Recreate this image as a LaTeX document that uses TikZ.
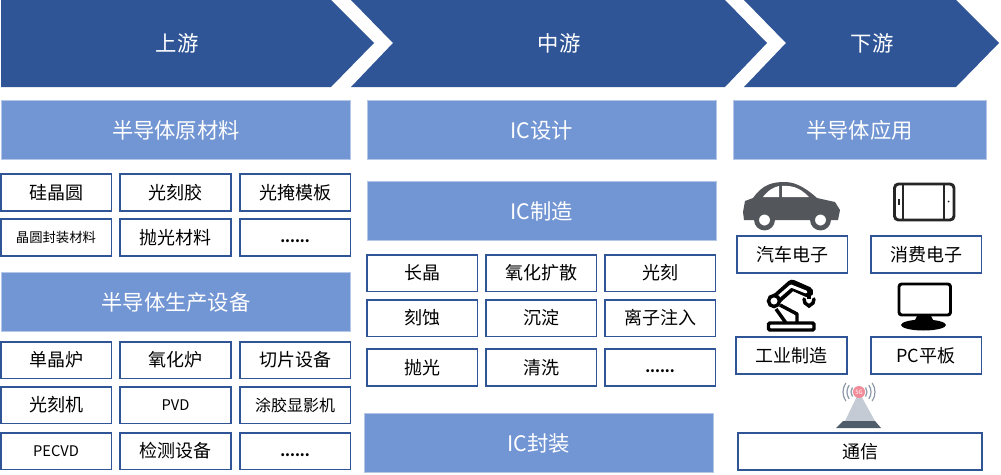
\documentclass[tikz,border=0pt]{standalone}
\usepackage{fontspec}
\setmainfont{Noto Sans CJK SC}
\definecolor{darkblue}{HTML}{2F5597}
\definecolor{midblue}{HTML}{7295D3}
\definecolor{paleblue}{HTML}{B4C7E7}
\definecolor{cargray}{HTML}{53565A}
\definecolor{towergray}{HTML}{C5CBD4}
\definecolor{platform}{HTML}{4F5C6C}
\definecolor{signal}{HTML}{8C98A8}
\definecolor{beacon}{HTML}{F28B98}
\begin{document}
\begin{tikzpicture}[x=0.75pt, y=-0.75pt,
	headtext/.style={text=white, font=\fontsize{16}{16}\selectfont, inner sep=0pt},
	banner/.style={rectangle, fill=midblue, draw=paleblue, line width=0.5pt, inner sep=0pt, outer sep=0pt, minimum width=262pt, minimum height=44pt, text=white, font=\fontsize{16}{16}\selectfont},
	cell/.style={rectangle, draw=darkblue, fill=white, line width=1.25pt, inner sep=0pt, outer sep=0pt, minimum width=83pt, minimum height=27.5pt, font=\fontsize{13.5}{14}\selectfont},
	morecell/.style={cell, font=\fontsize{10.5}{14}\selectfont\bfseries}]
	\useasboundingbox (0, 0) rectangle (1001, 475);

	% arrows on top
	\fill[darkblue] (1, 0) -- (331, 0) -- (374, 43) -- (331, 87) -- (1, 87) -- cycle;
	\fill[darkblue] (351, 0) -- (725, 0) -- (767, 43) -- (725, 87) -- (351, 87) -- (393, 43) -- cycle;
	\fill[darkblue] (744, 0) -- (956, 0) -- (999, 43) -- (956, 87) -- (744, 87) -- (786, 43) -- cycle;
	\node[headtext] (up) at (177, 43) {上游};
	\node[headtext] (mid) at (559, 43) {中游};
	\node[headtext] (down) at (872, 43) {下游};

	% upstream
	\node[banner] (material) at (176, 130) {半导体原材料};
	\node[cell] (wafer) at (56, 192.5) {硅晶圆};
	\node[cell] (resist) at (175.5, 192.5) {光刻胶};
	\node[cell] (mask) at (295, 192.5) {光掩模板};
	\node[cell, font=\fontsize{10}{10}\selectfont] (packmat) at (56, 237.5) {晶圆封装材料};
	\node[cell] (polishmat) at (175.5, 237.5) {抛光材料};
	\node[morecell] (moremat) at (295, 237.5) {\vphantom{光}......};
	\node[banner] (equip) at (176, 302) {半导体生产设备};
	\node[cell] (crystal) at (56, 360) {单晶炉};
	\node[cell] (oxfurnace) at (175.5, 360) {氧化炉};
	\node[cell] (slicer) at (295, 360) {切片设备};
	\node[cell] (litho) at (56, 405) {光刻机};
	\node[cell, font=\fontsize{11}{12}\selectfont] (pvd) at (175.5, 405) {PVD};
	\node[cell, font=\fontsize{12}{12}\selectfont] (coater) at (295, 405) {涂胶显影机};
	\node[cell, font=\fontsize{11}{12}\selectfont] (pecvd) at (56, 451) {PECVD};
	\node[cell] (inspect) at (175.5, 451) {检测设备};
	\node[morecell] (moreequip) at (295, 451) {\vphantom{光}......};

	% midstream
	\node[banner] (design) at (541.5, 130) {IC设计};
	\node[banner] (fab) at (541.5, 211) {IC制造};
	\node[cell] (growth) at (422, 273) {长晶};
	\node[cell] (oxidize) at (541, 273) {氧化扩散};
	\node[cell] (photo) at (660, 273) {光刻};
	\node[cell] (etch) at (422, 318) {刻蚀};
	\node[cell] (deposit) at (541, 318) {沉淀};
	\node[cell] (implant) at (660, 318) {离子注入};
	\node[cell] (polish) at (422, 367.5) {抛光};
	\node[cell] (clean) at (541, 367.5) {清洗};
	\node[morecell] (morefab) at (660, 367.5) {\vphantom{光}......};
	\node[banner] (pack) at (538.5, 443) {IC封装};

	% downstream
	\node[banner, minimum width=189.5pt] (apply) at (859.5, 130) {半导体应用};
	\node[cell] (auto) at (792, 254.5) {汽车电子};
	\node[cell] (consumer) at (926, 254.5) {消费电子};
	\node[cell] (industry) at (791.5, 355.5) {工业制造};
	\node[cell] (pc) at (926, 355.5) {PC平板};
	\node[cell, minimum width=183pt] (telecom) at (860, 451.5) {通信};

	% car
	\fill[cargray] (743, 212) -- (745, 201) -- (753, 198) .. controls (763, 184) and (773, 182) .. (785, 182) .. controls (797, 182) and (808, 190) .. (817, 198) -- (835, 202) -- (840, 210) -- (838, 220) -- (744, 220) -- cycle;
	\fill[white] (763, 197) .. controls (769, 189) and (775, 187) .. (779, 186) -- (779, 197) -- cycle;
	\fill[white] (782, 186) .. controls (795, 185) and (802, 190) .. (809, 197) -- (782, 197) -- cycle;
	\draw[cargray, line width=3.6pt, fill=white] (764.5, 220) circle (8);
	\draw[cargray, line width=3.6pt, fill=white] (820.5, 220) circle (8);

	% tablet
	\draw[black!85, line width=2.2pt, rounded corners=3pt] (894.5, 184) rectangle (954, 220);
	\draw[black!85, line width=1pt] (903, 184) -- (903, 220);
	\draw[black!85, line width=1pt] (944, 184) -- (944, 220);
	\fill[black!85] (898, 199) rectangle (899.5, 205);
	\fill[black!85] (948.5, 201.5) circle (1);

	% robot arm
	\draw[black, line width=2.6pt, rounded corners=1pt] (768.5, 323) rectangle (814, 330);
	\draw[black, line width=8pt, line cap=round, line join=round] (774, 301) -- (792, 285) -- (808, 292);
	\draw[white, line width=2.2pt, line cap=round, line join=round] (776, 299) -- (791, 286) -- (806, 292);
	\draw[black, line width=2.6pt, fill=white] (774, 301) circle (5.5);
	\draw[black, line width=2.6pt, line join=round] (780, 305) -- (797, 314) -- (797, 323);
	\draw[black, line width=2.6pt] (776, 309) -- (786, 323);
	\draw[black, line width=2.6pt] (809, 294) -- (809, 299);
	\draw[black, line width=2.6pt, line cap=round] (804, 299) -- (805, 303) -- (809, 306) -- (813, 303) -- (814, 299);

	% monitor
	\draw[black, line width=2.2pt, rounded corners=2pt] (899, 284) rectangle (950.5, 315);
	\fill[black] (917, 316) -- (931, 316) -- (934, 322) -- (914, 322) -- cycle;
	\fill[black] (923.5, 325) ellipse (22.5 and 5.5);

	% tower
	\fill[towergray] (859, 392) -- (845, 421) -- (875, 421) -- cycle;
	\fill[platform] (843, 421) -- (875, 421) -- (881, 428) -- (836, 428) -- cycle;
	\foreach \r/\w in {8/0.9pt, 12/0.9pt, 16/0.9pt} {
		\draw[signal, line width=\w] (859, 392) ++(145:0.75pt*\r) arc (145:215:0.75pt*\r);
		\draw[signal, line width=\w] (859, 392) ++(35:0.75pt*\r) arc (35:-35:0.75pt*\r);
	}
	\fill[beacon] (859, 392) circle (6);
	\node[text=white, inner sep=0pt, font=\fontsize{4.5}{5}\selectfont] (fiveg) at (859, 392) {5G};
\end{tikzpicture}
\end{document}
